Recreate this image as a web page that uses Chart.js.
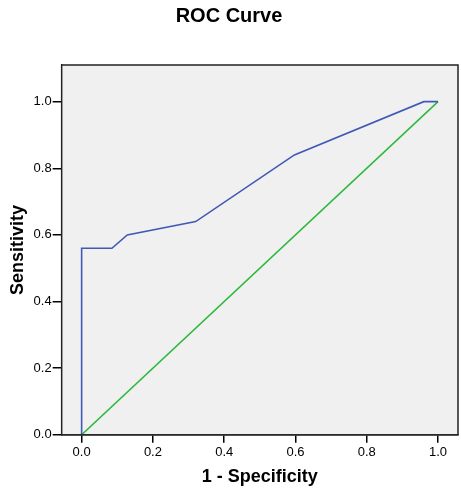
<!DOCTYPE html>
<html>
<head>
<meta charset="utf-8">
<script src="https://cdn.jsdelivr.net/npm/chart.js@4/dist/chart.umd.min.js"></script>
<style>
  html, body { margin: 0; padding: 0; background: #fff; }
  #wrap { width: 461px; height: 488px; }
</style>
</head>
<body>
<div id="wrap"><canvas id="roc"></canvas></div>
<script>
// ROC curve points (1 - specificity, sensitivity)
const rocX = [0, 0, 0.085, 0.128, 0.32, 0.597, 0.96, 1];
const rocY = [0, 0.56, 0.56, 0.60, 0.64, 0.84, 1, 1];
// reference diagonal
const refX = [0, 1];
const refY = [0, 1];
const tickValues = [0, 0.2, 0.4, 0.6, 0.8, 1.0];

const toPoints = (xs, ys) => xs.map((x, i) => ({ x, y: ys[i] }));
const FONT = 'Arial, "Liberation Sans", sans-serif';

const plotBox = {
  id: 'plotBox',
  beforeDatasetsDraw(chart) {
    const { ctx, chartArea: a } = chart;
    ctx.save();
    ctx.fillStyle = '#f0f0f0';
    ctx.fillRect(a.left, a.top, a.right - a.left, a.bottom - a.top);
    ctx.restore();
  },
  afterDatasetsDraw(chart) {
    const { ctx, chartArea: a } = chart;
    ctx.save();
    ctx.strokeStyle = '#222';
    ctx.lineWidth = 1.5;
    ctx.strokeRect(a.left, a.top, a.right - a.left, a.bottom - a.top);
    ctx.restore();
  },
};

const fixedTicks = (scale) => {
  scale.ticks = tickValues.map((v) => ({ value: v }));
};

new Chart(document.getElementById('roc'), {
  type: 'scatter',
  data: {
    datasets: [
      {
        label: 'ROC',
        data: toPoints(rocX, rocY),
        showLine: true,
        borderColor: '#4059b5',
        borderWidth: 1.6,
        pointRadius: 0,
        tension: 0,
      },
      {
        label: 'Reference',
        data: toPoints(refX, refY),
        showLine: true,
        borderColor: '#2cb83c',
        borderWidth: 1.5,
        pointRadius: 0,
        tension: 0,
      },
    ],
  },
  options: {
    responsive: true,
    maintainAspectRatio: false,
    animation: false,
    layout: { padding: { top: 0, right: 3, bottom: 0, left: 0 } },
    plugins: {
      legend: { display: false },
      tooltip: { enabled: false },
      title: {
        display: true,
        text: 'ROC Curve',
        color: '#000',
        font: { family: FONT, size: 20, weight: 'bold' },
        padding: { top: 4, bottom: 37 },
      },
    },
    scales: {
      x: {
        type: 'linear',
        min: -0.056,
        max: 1.056,
        afterBuildTicks: fixedTicks,
        grid: { drawOnChartArea: false, drawTicks: true, tickLength: 8, color: '#000', lineWidth: 1.5 },
        border: { display: true, color: '#222', width: 1.5 },
        ticks: {
          color: '#000',
          padding: 2,
          font: { family: FONT, size: 13 },
          callback: (v) => v.toFixed(1),
        },
        title: {
          display: true,
          text: '1 - Specificity',
          color: '#000',
          font: { family: FONT, size: 18, weight: 'bold' },
          padding: { top: 4, bottom: 0 },
        },
      },
      y: {
        type: 'linear',
        min: 0,
        max: 1.11,
        afterBuildTicks: fixedTicks,
        grid: { drawOnChartArea: false, drawTicks: true, tickLength: 9, color: '#000', lineWidth: 1.5 },
        border: { display: true, color: '#222', width: 1.5 },
        ticks: {
          color: '#000',
          padding: 1,
          font: { family: FONT, size: 13 },
          callback: (v) => v.toFixed(1),
        },
        title: {
          display: true,
          text: 'Sensitivity',
          color: '#000',
          font: { family: FONT, size: 18, weight: 'bold' },
          padding: { top: 7, bottom: 4 },
        },
      },
    },
  },
  plugins: [plotBox],
});
</script>
</body>
</html>
